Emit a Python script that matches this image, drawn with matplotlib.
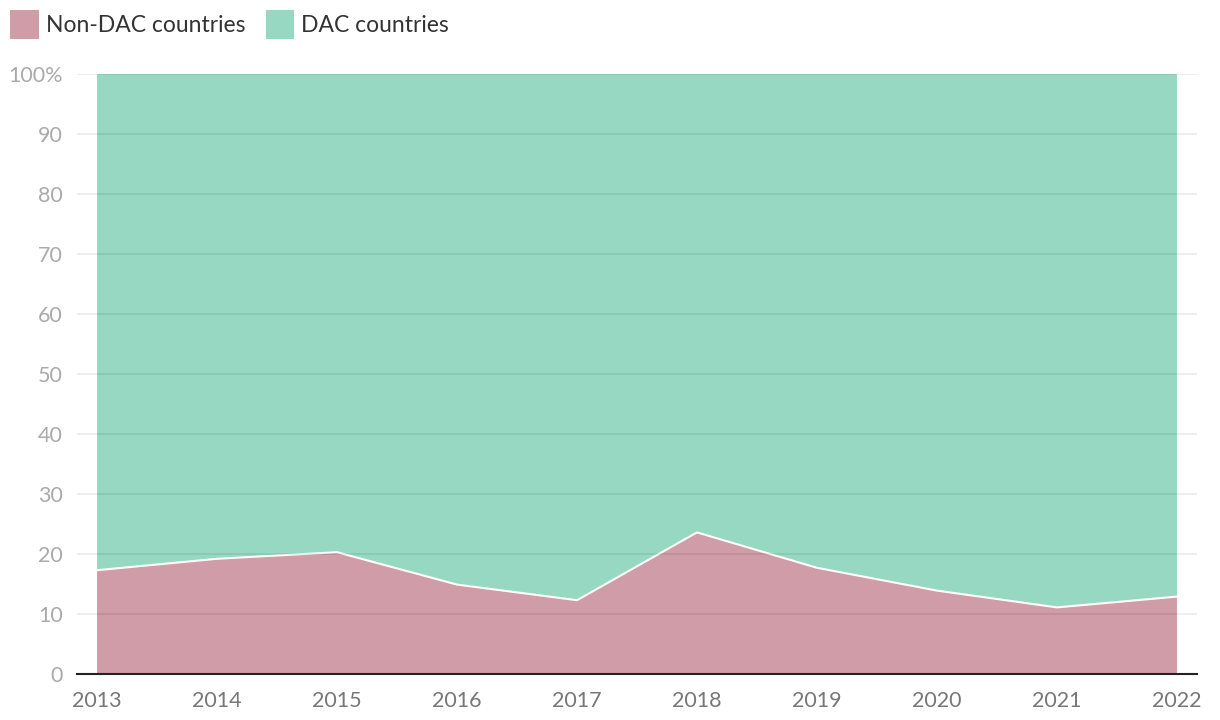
import numpy as np
import matplotlib.pyplot as plt
from matplotlib.patches import Patch

plt.rcParams['font.family'] = ['Lato', 'DejaVu Sans']

years = [2013, 2014, 2015, 2016, 2017, 2018, 2019, 2020, 2021, 2022]
non_dac = [17.3, 19.2, 20.3, 14.9, 12.3, 23.6, 17.7, 13.9, 11.1, 12.9]
dac = [100 - v for v in non_dac]

pink = '#cf9ca7'
green = '#96d8c2'

fig = plt.figure(figsize=(12.2, 7.2), dpi=100)
ax = fig.add_axes([77/1220, 1 - 674/720, 1120/1220, 600/720])

ax.stackplot(years, non_dac, dac, colors=[pink, green], zorder=1)
ax.plot(years, non_dac, color='white', lw=1.5, zorder=2)

ax.set_xlim(2012.833, 2022.167)
ax.set_ylim(0, 100)
ax.set_yticks(range(0, 101, 10))
ax.set_yticklabels([str(v) for v in range(0, 100, 10)] + ['100%'])
ax.set_xticks(years)
ax.set_xticklabels([str(y) for y in years])

ax.grid(axis='y', color='black', alpha=0.08, lw=1.2, zorder=3)
ax.set_axisbelow(False)
for s in ['top', 'right', 'left']:
    ax.spines[s].set_visible(False)
ax.spines['bottom'].set_color('#222222')
ax.spines['bottom'].set_linewidth(1.5)
ax.spines['bottom'].set_zorder(4)

ax.tick_params(axis='y', length=0, pad=10, labelsize=15.5, labelcolor='#aaaaaa')
ax.tick_params(axis='x', length=0, pad=12, labelsize=15.5, labelcolor='#777777')

handles = [Patch(facecolor=pink, label='Non-DAC countries'),
           Patch(facecolor=green, label='DAC countries')]
fig.legend(handles=handles, loc='upper left', bbox_to_anchor=(10/1220, 1 - 10/720),
           ncol=2, frameon=False, fontsize=16.5, handlelength=1.25,
           handleheight=1.6, handletextpad=0.3, columnspacing=0.9,
           labelcolor='#333333', borderaxespad=0, borderpad=0)

fig.savefig('out.png', dpi=100)
